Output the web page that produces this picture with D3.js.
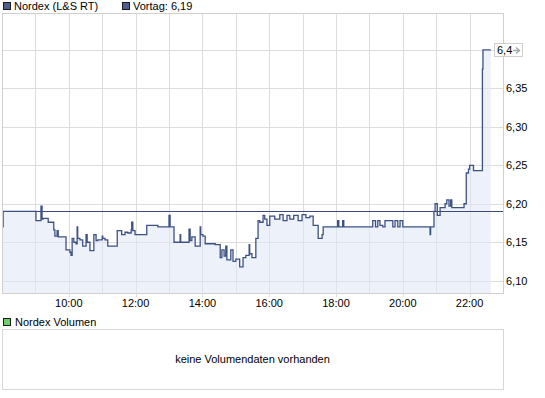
<!DOCTYPE html>
<html>
<head>
<meta charset="utf-8">
<script src="https://cdn.jsdelivr.net/npm/d3@7"></script>
<style>
  body { margin: 0; background: #fff; }
  text { font-family: "Liberation Sans", Arial, sans-serif; font-size: 11px; fill: #000; }
</style>
</head>
<body>
<svg id="chart" width="545" height="398"></svg>
<script>
// intraday quotes, Nordex (L&S RT)
var times = ["08:00","08:02","09:01","09:10","09:12","09:14","09:23","09:33","09:35","09:39","09:41","09:55",
  "10:02","10:04","10:06","10:09","10:13","10:15","10:16","10:20","10:25","10:31","10:33","10:38","10:45","10:49","10:52",
  "11:00","11:01","11:05","11:10","11:27","11:35","11:41","11:46","11:52","11:53","11:55","11:59",
  "12:20","12:40","13:00","13:02","13:09","13:20","13:21","13:36","13:38","13:41","13:47","13:56","13:57",
  "14:01","14:05","14:23","14:32","14:35","14:39","14:42","14:44","14:51","14:55",
  "15:00","15:07","15:13","15:18","15:24","15:25","15:29","15:36","15:40","15:43","15:49","15:52","15:56",
  "16:01","16:10","16:19","16:25","16:32","16:37","16:44","16:52","16:59",
  "17:06","17:13","17:19","17:28","17:35","17:37",
  "18:03","18:05","18:12","18:14","19:06","19:11","19:15","19:19","19:24","19:28","19:42","19:46","19:51","19:55",
  "20:00","20:49","20:50","20:56","20:58","21:02","21:07","21:16","21:19","21:23","21:26","21:28","21:50","21:54","21:58",
  "22:00","22:07","22:23","22:24","22:38"];
var prices = [6.17,6.19,6.178,6.197,6.18,6.181,6.176,6.166,6.158,6.165,6.157,6.140,
  6.137,6.133,6.155,6.150,6.148,6.170,6.155,6.153,6.145,6.160,6.150,6.139,6.160,6.152,6.153,
  6.158,6.155,6.153,6.145,6.165,6.160,6.163,6.162,6.166,6.176,6.165,6.160,
  6.172,6.170,6.185,6.170,6.150,6.160,6.150,6.167,6.152,6.157,6.145,6.170,6.160,
  6.158,6.148,6.147,6.130,6.140,6.132,6.145,6.127,6.140,6.125,
  6.128,6.118,6.130,6.133,6.147,6.135,6.130,6.155,6.178,6.176,6.185,6.180,6.172,
  6.184,6.180,6.186,6.178,6.185,6.180,6.185,6.178,6.186,
  6.182,6.184,6.172,6.155,6.160,6.170,
  6.178,6.170,6.178,6.170,6.178,6.170,6.178,6.172,6.170,6.178,6.170,6.178,6.170,6.178,
  6.170,6.160,6.170,6.190,6.200,6.185,6.195,6.200,6.205,6.197,6.205,6.195,6.200,6.240,6.245,
  6.250,6.243,6.375,6.400,6.400];
var prevClose = 6.19;
var yTicks = [6.10, 6.15, 6.20, 6.25, 6.30, 6.35];
var lastLabel = "6,4";
var xTickLabels = ["10:00","12:00","14:00","16:00","18:00","20:00","22:00"];

var svg = d3.select("#chart"),
    plot = {left: 2, right: 503, top: 13, bottom: 293},
    parse = d3.timeParse("%H:%M"),
    comma = function(v) { return d3.format(".2f")(v).replace(".", ","); };

var data = times.map(function(t, i) { return {t: parse(t), p: prices[i]}; });

var x = d3.scaleTime()
    .domain([parse("08:00"), parse("23:00")])
    .range([plot.left, plot.right]);

var y = d3.scaleLinear()
    .domain([6.084, 6.448])
    .range([plot.bottom, plot.top]);

// grid
var hours = d3.timeHour.range(parse("09:00"), parse("23:00"));
svg.append("g").selectAll("line").data(hours).enter().append("line")
    .attr("x1", function(d) { return Math.round(x(d)) + 0.5; })
    .attr("x2", function(d) { return Math.round(x(d)) + 0.5; })
    .attr("y1", plot.top).attr("y2", plot.bottom)
    .attr("stroke", "#dedede");

var gridY = yTicks.concat([6.40]);
svg.append("g").selectAll("line").data(gridY).enter().append("line")
    .attr("x1", plot.left).attr("x2", plot.right)
    .attr("y1", function(d) { return Math.round(y(d)) + 0.5; })
    .attr("y2", function(d) { return Math.round(y(d)) + 0.5; })
    .attr("stroke", "#dedede");

// area + line
var area = d3.area()
    .curve(d3.curveStepAfter)
    .x(function(d) { return x(d.t); })
    .y0(plot.bottom)
    .y1(function(d) { return y(d.p); });

var line = d3.line()
    .curve(d3.curveStepAfter)
    .x(function(d) { return x(d.t); })
    .y(function(d) { return y(d.p); });

svg.append("path").datum(data)
    .attr("d", area)
    .attr("fill", "#dfe5f5")
    .attr("fill-opacity", 0.55);

// previous close
svg.append("line")
    .attr("x1", plot.left).attr("x2", plot.right)
    .attr("y1", Math.round(y(prevClose)) + 0.5)
    .attr("y2", Math.round(y(prevClose)) + 0.5)
    .attr("stroke", "#3c4c78").attr("stroke-width", 1.2);

svg.append("path").datum(data)
    .attr("d", line)
    .attr("fill", "none")
    .attr("stroke", "#3d5184")
    .attr("stroke-width", 1.3);

// frame
svg.append("rect")
    .attr("x", plot.left + 0.5).attr("y", plot.top + 0.5)
    .attr("width", plot.right - plot.left).attr("height", plot.bottom - plot.top)
    .attr("fill", "none").attr("stroke", "#d0d0d0");

// x axis labels
svg.append("g").selectAll("line").data(xTickLabels).enter().append("line")
    .attr("x1", function(d) { return Math.round(x(parse(d))) + 0.5; })
    .attr("x2", function(d) { return Math.round(x(parse(d))) + 0.5; })
    .attr("y1", plot.bottom).attr("y2", plot.bottom + 4)
    .attr("stroke", "#dedede");

svg.append("g").selectAll("text").data(xTickLabels).enter().append("text")
    .attr("x", function(d) { return x(parse(d)); })
    .attr("y", 307)
    .attr("text-anchor", "middle")
    .text(function(d) { return d; });

// y labels on the right
svg.append("g").selectAll("text").data(yTicks).enter().append("text")
    .attr("x", 506)
    .attr("y", function(d) { return y(d) + 4; })
    .text(comma);

// last price box
var ly = Math.round(y(prices[prices.length - 1]));
svg.append("rect")
    .attr("x", 494.5).attr("y", ly - 6.5)
    .attr("width", 28).attr("height", 13)
    .attr("fill", "#fff").attr("stroke", "#cfcfcf");
svg.append("text").attr("x", 497).attr("y", ly + 4).text(lastLabel);
svg.append("path")
    .attr("d", "M513," + (ly + 0.5) + "H519M516," + (ly - 2.5) + "L519.5," + (ly + 0.5) + "L516," + (ly + 3.5))
    .attr("fill", "none").attr("stroke", "#a8a8a8").attr("stroke-width", 1.4);

// legend
var legend = [{x: 3, label: "Nordex (L&S RT)"}, {x: 122, label: "Vortag: 6,19"}];
legend.forEach(function(l) {
    svg.append("rect").attr("x", l.x + 0.5).attr("y", 2.5).attr("width", 7).attr("height", 7)
        .attr("fill", "#4f5f8c").attr("stroke", "#1a1a1a");
    svg.append("text").attr("x", l.x + 11).attr("y", 10).text(l.label);
});

// volume panel
svg.append("rect").attr("x", 3.5).attr("y", 318.5).attr("width", 7).attr("height", 7)
    .attr("fill", "#6ccf6c").attr("stroke", "#1a1a1a");
svg.append("text").attr("x", 15).attr("y", 326).text("Nordex Volumen");
svg.append("rect")
    .attr("x", plot.left + 0.5).attr("y", 329.5)
    .attr("width", plot.right - plot.left).attr("height", 60)
    .attr("fill", "#fff").attr("stroke", "#d8d8d8");
svg.append("text")
    .attr("x", (plot.left + plot.right) / 2).attr("y", 363)
    .attr("text-anchor", "middle")
    .text("keine Volumendaten vorhanden");
</script>
</body>
</html>
